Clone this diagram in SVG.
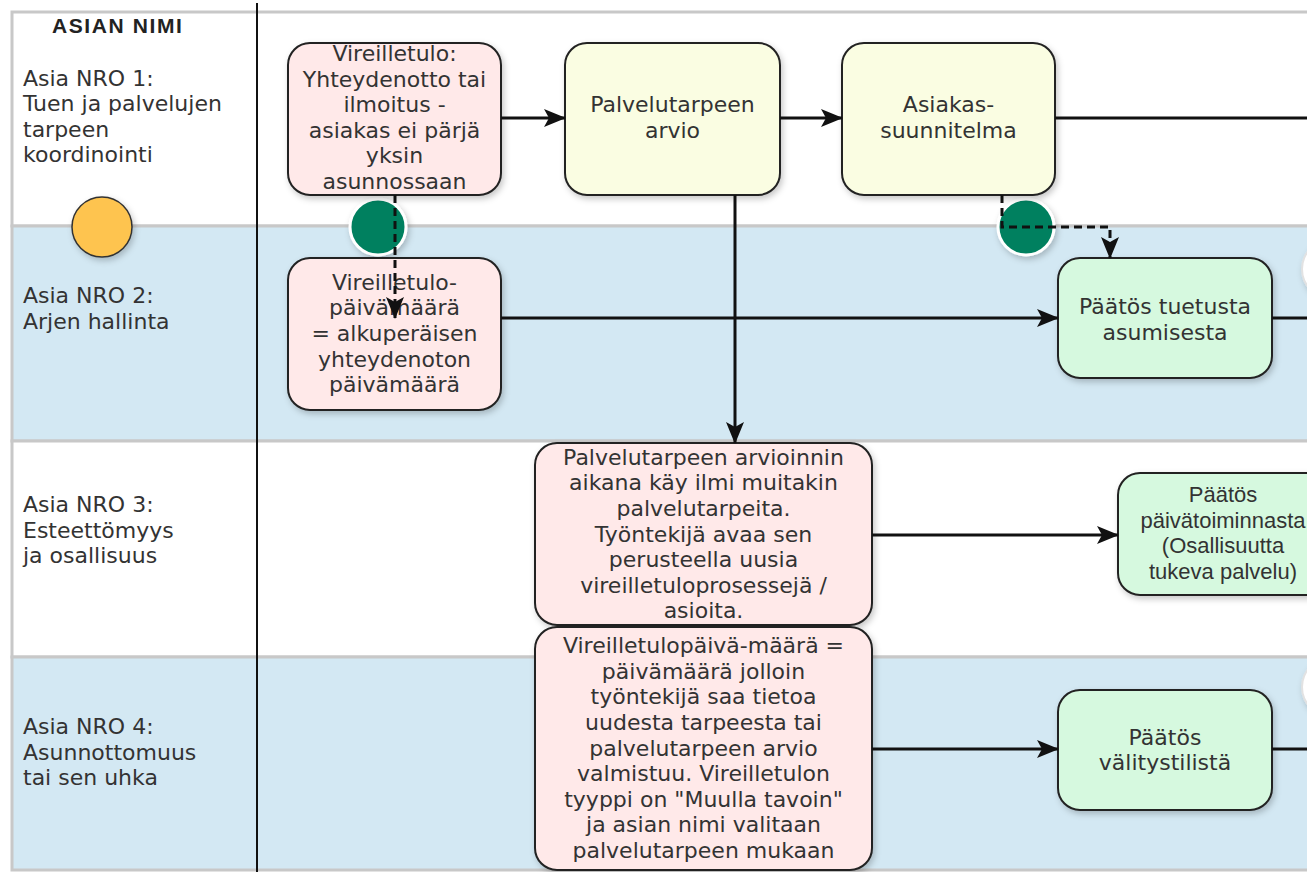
<svg xmlns="http://www.w3.org/2000/svg" width="1307" height="872" viewBox="0 0 1307 872">
<style>
.lane{stroke:#c8c8c8;stroke-width:3}
.white{fill:#ffffff}
.blue{fill:#d3e8f3}
.lbl{font-family:"DejaVu Sans",Verdana,sans-serif;font-size:22px;fill:#333}
.t{font-family:"DejaVu Sans",Verdana,sans-serif;font-size:22px;fill:#333;text-anchor:middle}
.ta{font-family:"Liberation Sans",Arial,sans-serif;font-size:22px;fill:#333;text-anchor:middle}
.node{stroke:#222;stroke-width:2}
.pink{fill:#ffe9e9}
.yel{fill:#fafde2}
.grn{fill:#d6f9df}
.conn{fill:none;stroke:#111;stroke-width:3}
.dash{stroke-dasharray:8 5}
</style>
<defs>
<filter id="sh" x="-20%" y="-20%" width="140%" height="140%">
<feDropShadow dx="2" dy="3" stdDeviation="3" flood-color="#000" flood-opacity="0.22"/>
</filter>
<marker id="arr" viewBox="0 0 22 20" refX="21" refY="10" markerWidth="22" markerHeight="20" markerUnits="userSpaceOnUse" orient="auto">
<path d="M0,1 L22,10 L0,19 L5,10 Z" fill="#111"/>
</marker>
</defs>

<g id="lanes">
<rect class="lane white" x="12" y="12" width="1310" height="214"/>
<rect class="lane blue" x="12" y="226" width="1310" height="215"/>
<rect class="lane white" x="12" y="441" width="1310" height="216"/>
<rect class="lane blue" x="12" y="657" width="1310" height="213"/>
<line x1="257" y1="3" x2="257" y2="872" stroke="#111" stroke-width="2"/>
<text x="52" y="33" font-family="'Liberation Sans',Arial,sans-serif" font-size="21" font-weight="bold" letter-spacing="1.6" fill="#222">ASIAN NIMI</text>
<text class="lbl"><tspan x="23" y="85.6">Asia NRO 1:</tspan><tspan x="23" y="111.2">Tuen ja palvelujen</tspan><tspan x="23" y="136.8">tarpeen</tspan><tspan x="23" y="162.4">koordinointi</tspan></text>
<text class="lbl"><tspan x="23" y="303.2">Asia NRO 2:</tspan><tspan x="23" y="328.8">Arjen hallinta</tspan></text>
<text class="lbl"><tspan x="23" y="512">Asia NRO 3:</tspan><tspan x="23" y="537.6">Esteettömyys</tspan><tspan x="23" y="563.2">ja osallisuus</tspan></text>
<text class="lbl"><tspan x="23" y="734">Asia NRO 4:</tspan><tspan x="23" y="759.6">Asunnottomuus</tspan><tspan x="23" y="785.2">tai sen uhka</tspan></text>
</g>

<g id="start-event">
<circle cx="102" cy="227" r="30" fill="#fec44f" stroke="#333" stroke-width="1.5" filter="url(#sh)"/>
</g>
<g id="event-green-1">
<circle cx="378" cy="227" r="28" fill="#01805f" stroke="#fff" stroke-width="3" filter="url(#sh)"/>
</g>
<g id="event-green-2">
<circle cx="1026" cy="227" r="28" fill="#01805f" stroke="#fff" stroke-width="3" filter="url(#sh)"/>
</g>
<g id="event-white-1">
<circle cx="1331" cy="269" r="29" fill="#fff" stroke="#e2e2e2" stroke-width="2" filter="url(#sh)"/>
</g>
<g id="event-white-2">
<circle cx="1331" cy="687" r="29" fill="#fff" stroke="#e2e2e2" stroke-width="2" filter="url(#sh)"/>
</g>

<g id="n-vireilletulo">
<rect class="node pink" x="288" y="43" width="213" height="152" rx="22" filter="url(#sh)"/>
<text class="t"><tspan x="394.5" y="61">Vireilletulo:</tspan><tspan x="394.5" y="86.6">Yhteydenotto tai</tspan><tspan x="394.5" y="112.2">ilmoitus -</tspan><tspan x="394.5" y="137.8">asiakas ei pärjä</tspan><tspan x="394.5" y="163.4">yksin</tspan><tspan x="394.5" y="189">asunnossaan</tspan></text>
</g>

<g id="n-palvelutarpeen-arvio">
<rect class="node yel" x="565" y="43" width="215" height="152" rx="22" filter="url(#sh)"/>
<text class="t"><tspan x="672.5" y="112.2">Palvelutarpeen</tspan><tspan x="672.5" y="137.8">arvio</tspan></text>
</g>

<g id="n-asiakassuunnitelma">
<rect class="node yel" x="842" y="43" width="213" height="152" rx="22" filter="url(#sh)"/>
<text class="t"><tspan x="948.5" y="112.2">Asiakas-</tspan><tspan x="948.5" y="137.8">suunnitelma</tspan></text>
</g>

<g id="n-vireilletulopaivamaara">
<rect class="node pink" x="288" y="258" width="213" height="152" rx="22" filter="url(#sh)"/>
<text class="t"><tspan x="394.5" y="289.8">Vireilletulo-</tspan><tspan x="394.5" y="315.4">päivämäärä</tspan><tspan x="394.5" y="341">= alkuperäisen</tspan><tspan x="394.5" y="366.6">yhteydenoton</tspan><tspan x="394.5" y="392.2">päivämäärä</tspan></text>
</g>

<g id="n-paatos-tuetusta">
<rect class="node grn" x="1058" y="258" width="214" height="120" rx="22" filter="url(#sh)"/>
<text class="t"><tspan x="1165" y="314.2">Päätös tuetusta</tspan><tspan x="1165" y="339.8">asumisesta</tspan></text>
</g>

<g id="n-arvioinnin-aikana">
<rect class="node pink" x="535" y="443" width="337" height="182" rx="22" filter="url(#sh)"/>
<text class="t"><tspan x="703.5" y="464.7">Palvelutarpeen arvioinnin</tspan><tspan x="703.5" y="490.3">aikana käy ilmi muitakin</tspan><tspan x="703.5" y="515.9">palvelutarpeita.</tspan><tspan x="703.5" y="541.5">Työntekijä avaa sen</tspan><tspan x="703.5" y="567.1">perusteella uusia</tspan><tspan x="703.5" y="592.7">vireilletuloprosessejä /</tspan><tspan x="703.5" y="618.3">asioita.</tspan></text>
</g>

<g id="n-paatos-paivatoiminnasta">
<rect class="node grn" x="1118" y="473" width="218" height="122" rx="22" filter="url(#sh)"/>
<text class="ta"><tspan x="1223" y="502">Päätös</tspan><tspan x="1223" y="527.6">päivätoiminnasta</tspan><tspan x="1223" y="553.2">(Osallisuutta</tspan><tspan x="1223" y="578.8">tukeva palvelu)</tspan></text>
</g>

<g id="n-vireilletulopaiva-maara">
<rect class="node pink" x="535" y="627" width="337" height="243" rx="22" filter="url(#sh)"/>
<text class="t"><tspan x="703.5" y="653.2">Vireilletulopäivä-määrä =</tspan><tspan x="703.5" y="678.8">päivämäärä jolloin</tspan><tspan x="703.5" y="704.4">työntekijä saa tietoa</tspan><tspan x="703.5" y="730">uudesta tarpeesta tai</tspan><tspan x="703.5" y="755.6">palvelutarpeen arvio</tspan><tspan x="703.5" y="781.2">valmistuu. Vireilletulon</tspan><tspan x="703.5" y="806.8">tyyppi on "Muulla tavoin"</tspan><tspan x="703.5" y="832.4">ja asian nimi valitaan</tspan><tspan x="703.5" y="858">palvelutarpeen mukaan</tspan></text>
</g>

<g id="n-paatos-valitystilista">
<rect class="node grn" x="1058" y="690" width="214" height="120" rx="22" filter="url(#sh)"/>
<text class="t"><tspan x="1165" y="744.7">Päätös</tspan><tspan x="1165" y="770.3">välitystilistä</tspan></text>
</g>

<g id="connectors">
<path class="conn" d="M501,118 L565,118" marker-end="url(#arr)"/>
<path class="conn" d="M780,118 L842,118" marker-end="url(#arr)"/>
<path class="conn" d="M1055,118 L1307,118"/>
<path class="conn" d="M735,195 L735,443" marker-end="url(#arr)"/>
<path class="conn dash" d="M395,195 L395,318" marker-end="url(#arr)"/>
<path class="conn" d="M501,318 L1058,318" marker-end="url(#arr)"/>
<path class="conn" d="M1272,318 L1307,318"/>
<path class="conn dash" d="M1002,195 L1002,227 L1110,227 L1110,258" marker-end="url(#arr)"/>
<path class="conn" d="M872,535 L1118,535" marker-end="url(#arr)"/>
<path class="conn" d="M872,749 L1058,749" marker-end="url(#arr)"/>
<path class="conn" d="M1272,749 L1307,749"/>
</g>
</svg>
